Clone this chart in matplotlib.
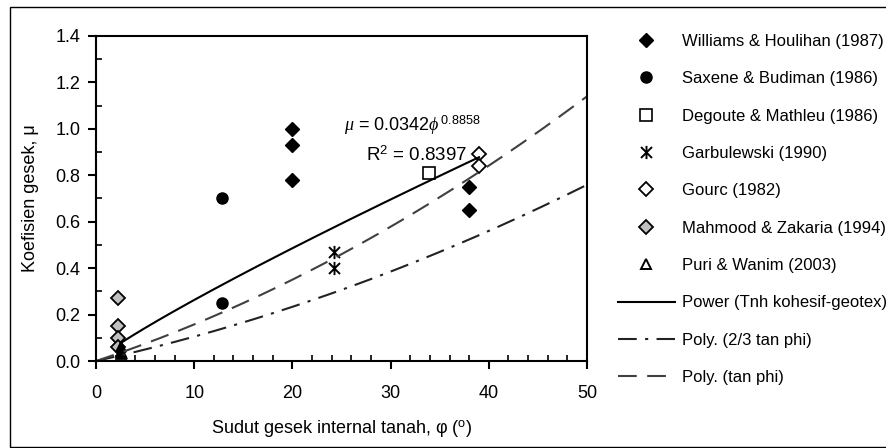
import numpy as np
import matplotlib
matplotlib.use('Agg')
import matplotlib.pyplot as plt
from matplotlib.path import Path
from matplotlib.lines import Line2D
from matplotlib.patches import Rectangle
from matplotlib.ticker import MultipleLocator, FormatStrFormatter

plt.rcParams['font.family'] = ['Liberation Sans', 'DejaVu Sans']
plt.rcParams['font.size'] = 12
plt.rcParams['mathtext.fontset'] = 'custom'
plt.rcParams['mathtext.it'] = 'Liberation Serif:italic'
plt.rcParams['mathtext.rm'] = 'Liberation Sans'

# data
williams_x = [20, 20, 20, 38, 38]
williams_y = [1.00, 0.93, 0.78, 0.75, 0.65]
saxene_x = [12.8, 12.8]
saxene_y = [0.70, 0.25]
degoute_x = [33.9]
degoute_y = [0.81]
garb_x = [24.2, 24.2]
garb_y = [0.47, 0.40]
gourc_x = [39.0, 39.0]
gourc_y = [0.89, 0.84]
mahmood_x = [2.2, 2.2, 2.2, 2.2]
mahmood_y = [0.27, 0.15, 0.10, 0.06]
puri_x = [2.5, 2.5, 2.6]
puri_y = [0.06, 0.04, 0.03]

# trendlines
power_a, power_b = 0.0342, 0.8858
power_range = (2.5, 39.0)
tan_coef = [0.000176, 0.0140, 0.0]      # Poly. (tan phi)
tan23_coef = [0.000117, 0.00933, 0.0]   # Poly. (2/3 tan phi)

fig = plt.figure(figsize=(8.87, 4.48), dpi=100)
# outer chart border (right edge runs off the image)
fig.patches.append(Rectangle((10/887, 1/448), 900/887, 440/448, transform=fig.transFigure,
                             fill=False, edgecolor='black', linewidth=1.0))
ax = fig.add_axes([96/887, 87/448, 491/887, 325/448])

star = Path([(-1, -1), (1, 1), (-1, 1), (1, -1), (0, -1.2), (0, 1.2)],
            [Path.MOVETO, Path.LINETO, Path.MOVETO, Path.LINETO, Path.MOVETO, Path.LINETO])

h1, = ax.plot(williams_x, williams_y, 'D', color='black', ms=7, ls='none',
              label='Williams & Houlihan (1987)')
h2, = ax.plot(saxene_x, saxene_y, 'o', color='black', ms=8, ls='none',
              label='Saxene & Budiman (1986)')
h3, = ax.plot(degoute_x, degoute_y, 's', mfc='white', mec='black', mew=1.2, ms=8, ls='none',
              label='Degoute & Mathleu (1986)')
h4, = ax.plot(garb_x, garb_y, marker=star, color='black', mew=1.4, ms=9.5, ls='none',
              label='Garbulewski (1990)')
h5, = ax.plot(gourc_x, gourc_y, 'D', mfc='white', mec='black', mew=1.3, ms=7, ls='none',
              label='Gourc (1982)')
h6, = ax.plot(mahmood_x, mahmood_y, 'D', mfc='#c0c0c0', mec='black', mew=1.3, ms=7, ls='none',
              label='Mahmood & Zakaria (1994)')
h7, = ax.plot(puri_x, puri_y, '^', mfc='black', mec='black', mew=1.3, ms=7, ls='none')
h7l = Line2D([], [], marker='^', mfc='white', mec='black', mew=1.4, ms=7, ls='none',
             label='Puri & Wanim (2003)')

xp = np.linspace(power_range[0], power_range[1], 200)
h8, = ax.plot(xp, power_a * xp ** power_b, color='black', lw=1.5,
              label='Power (Tnh kohesif-geotex)')
xx = np.linspace(0, 50, 300)
h9, = ax.plot(xx, np.polyval(tan23_coef, xx), color='#222222', lw=1.5,
              dashes=(9, 4, 1.5, 4), label='Poly. (2/3 tan phi)')
h10, = ax.plot(xx, np.polyval(tan_coef, xx), color='#404040', lw=1.5,
               dashes=(9, 5), label='Poly. (tan phi)')

ax.set_xlim(0, 50)
ax.set_ylim(0, 1.4)
ax.xaxis.set_major_locator(MultipleLocator(10))
ax.xaxis.set_minor_locator(MultipleLocator(2))
ax.yaxis.set_major_locator(MultipleLocator(0.2))
ax.yaxis.set_minor_locator(MultipleLocator(0.1))
ax.yaxis.set_major_formatter(FormatStrFormatter('%.1f'))
ax.tick_params(which='major', direction='out', length=6, width=1.5, labelsize=13)
ax.tick_params(axis='y', which='major', pad=5)
ax.tick_params(axis='x', which='major', pad=11)
ax.tick_params(which='minor', direction='in', length=4.5, width=1.2)
for s in ax.spines.values():
    s.set_linewidth(1.5)

ax.set_xlabel('Sudut gesek internal tanah, \u03c6 ($^{\\mathrm{o}}$)', fontsize=13, labelpad=12)
ax.set_ylabel('Koefisien gesek, \u03bc', fontsize=13, labelpad=12)

ax.text(25.3, 0.99, r'$\mu$ = 0.0342$\phi^{\,0.8858}$', fontsize=13)
ax.text(27.5, 0.86, 'R$^{2}$ = 0.8397', fontsize=13.5)

fig.legend(handles=[h1, h2, h3, h4, h5, h6, h7l, h8, h9, h10],
           loc='upper left', bbox_to_anchor=(618/887, 1 - 34/448),
           frameon=False, handlelength=3.4, handletextpad=0.45,
           labelspacing=1.34, borderpad=0, borderaxespad=0, fontsize=12)

fig.savefig('out.png', dpi=100)
